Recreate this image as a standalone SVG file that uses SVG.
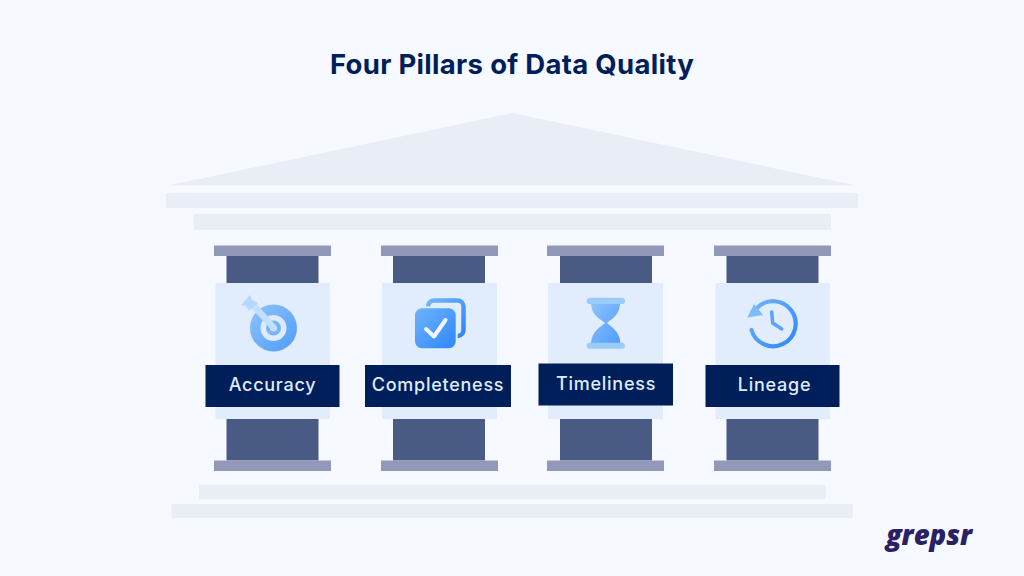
<svg xmlns="http://www.w3.org/2000/svg" width="1024" height="576" viewBox="0 0 1024 576">
<style>
.st{fill:#e8edf6}
.cap{fill:#9299b8}
.sh{fill:#495a85}
.lt{fill:#e1edfc}
.lb{fill:#001e5a}
.tx{font-family:Inter,"Noto Sans",sans-serif;font-size:18px;font-weight:500;fill:#dfecfc;text-anchor:middle;letter-spacing:.75px}
.title{font-family:Inter,"Noto Sans",sans-serif;font-size:27.5px;font-weight:700;fill:#001e5a;text-anchor:middle;letter-spacing:.3px}
.logo{font-family:"Open Sans","Noto Sans",sans-serif;font-size:27.500px;font-weight:800;font-style:italic;fill:#2a2066;text-anchor:middle}
</style>
<defs>
<linearGradient id="g" x1="0" y1="0" x2="1" y2="1"><stop offset="0" stop-color="#8fc4fa"/><stop offset="1" stop-color="#4f9bfb"/></linearGradient>
<linearGradient id="g2" x1="0" y1="0" x2="1" y2="1"><stop offset="0" stop-color="#6fb4fb"/><stop offset="1" stop-color="#2f86fb"/></linearGradient>
</defs>
<rect width="1024" height="576" fill="#f6f9ff"/>
<text class="title" x="512" y="73.500">Four Pillars of Data Quality</text>
<g id="temple">
<path class="st" d="M168 185.500L512 113L856 185.500Z"/>
<rect class="st" x="166" y="193" width="692" height="15"/>
<rect class="st" x="193.500" y="214" width="637.500" height="16"/>
<rect class="st" x="199" y="485" width="627" height="14"/>
<rect class="st" x="171.500" y="504" width="681.500" height="14"/>
</g>
<g id="pillar-accuracy">
<rect class="lt" x="215.500" y="283" width="114.500" height="136"/>
<rect class="cap" x="214" y="245.500" width="117" height="10.500"/>
<rect class="sh" x="226.500" y="256" width="92" height="27"/>
<rect class="sh" x="226.500" y="419" width="92" height="41.500"/>
<rect class="cap" x="214" y="460.500" width="117" height="10.500"/>
<circle cx="273.500" cy="328" r="23.500" fill="url(#g)"/>
<circle cx="273.500" cy="328" r="13" fill="#dcebfd"/>
<circle cx="273.500" cy="328" r="7.500" fill="#74b4fb"/>
<circle cx="273.500" cy="328" r="3.500" fill="#cfe4fd"/>
<path d="M253 305L273 327" stroke="#c2dffc" stroke-width="6.500" stroke-linecap="round" fill="none"/>
<path d="M241 305L250 295L252 300L258 303L249 311L246 306Z" fill="#b5d8fc"/>
<rect class="lb" x="205.500" y="365" width="134" height="42"/>
<text class="tx" x="272.500" y="391">Accuracy</text>
</g>
<g id="pillar-completeness">
<rect class="lt" x="382" y="283" width="115" height="136"/>
<rect class="cap" x="381" y="245.500" width="117" height="10.500"/>
<rect class="sh" x="393" y="256" width="92" height="27"/>
<rect class="sh" x="393" y="419" width="92" height="41.500"/>
<rect class="cap" x="381" y="460.500" width="117" height="10.500"/>
<rect x="428" y="300.500" width="35.500" height="35.500" rx="6" fill="none" stroke="url(#g2)" stroke-width="4.500"/>
<rect x="414" y="307.300" width="42.700" height="42" rx="8" fill="url(#g2)" stroke="#e1edfc" stroke-width="2"/>
<path d="M426 329L434 336.500L445.500 320" fill="none" stroke="#f0f6ff" stroke-width="4" stroke-linecap="round" stroke-linejoin="round"/>
<rect class="lb" x="365" y="365" width="146" height="42"/>
<text class="tx" x="438" y="391">Completeness</text>
</g>
<g id="pillar-timeliness">
<rect class="lt" x="548" y="283" width="115" height="136"/>
<rect class="cap" x="547" y="245.500" width="117" height="10.500"/>
<rect class="sh" x="560" y="256" width="92" height="27"/>
<rect class="sh" x="560" y="419" width="92" height="41.500"/>
<rect class="cap" x="547" y="460.500" width="117" height="10.500"/>
<path d="M591 302H620C620 316 611 319 607 323C611 327 620.500 331 620.500 345H591C591 331 601 327 605 323C601 319 591 316 591 302Z" fill="url(#g)"/>
<rect x="586.700" y="297.700" width="38.300" height="6.300" rx="3.100" fill="#9accfb"/>
<rect x="586.700" y="342.700" width="38.300" height="6" rx="3" fill="#9accfb"/>
<rect class="lb" x="538.500" y="363.500" width="134.500" height="42"/>
<text class="tx" x="606" y="389.500">Timeliness</text>
</g>
<g id="pillar-lineage">
<rect class="lt" x="715.500" y="283" width="114.500" height="136"/>
<rect class="cap" x="714" y="245.500" width="117" height="10.500"/>
<rect class="sh" x="726.500" y="256" width="92" height="27"/>
<rect class="sh" x="726.500" y="419" width="92" height="41.500"/>
<rect class="cap" x="714" y="460.500" width="117" height="10.500"/>
<path d="M757 308A22.500 22.500 0 1 1 751.500 330" fill="none" stroke="url(#g2)" stroke-width="4.200" stroke-linecap="round"/>
<path d="M747.300 317.500L754 304L763 315Z" fill="#7cbcfb"/>
<path d="M771.700 312L772.700 323L781.700 329" fill="none" stroke="#5aa5fb" stroke-width="3.500" stroke-linecap="round" stroke-linejoin="round"/>
<rect class="lb" x="705.500" y="365" width="134" height="42"/>
<text class="tx" x="774.500" y="391">Lineage</text>
</g>
<text class="logo" x="929" y="545" id="logo">grepsr</text>
</svg>
